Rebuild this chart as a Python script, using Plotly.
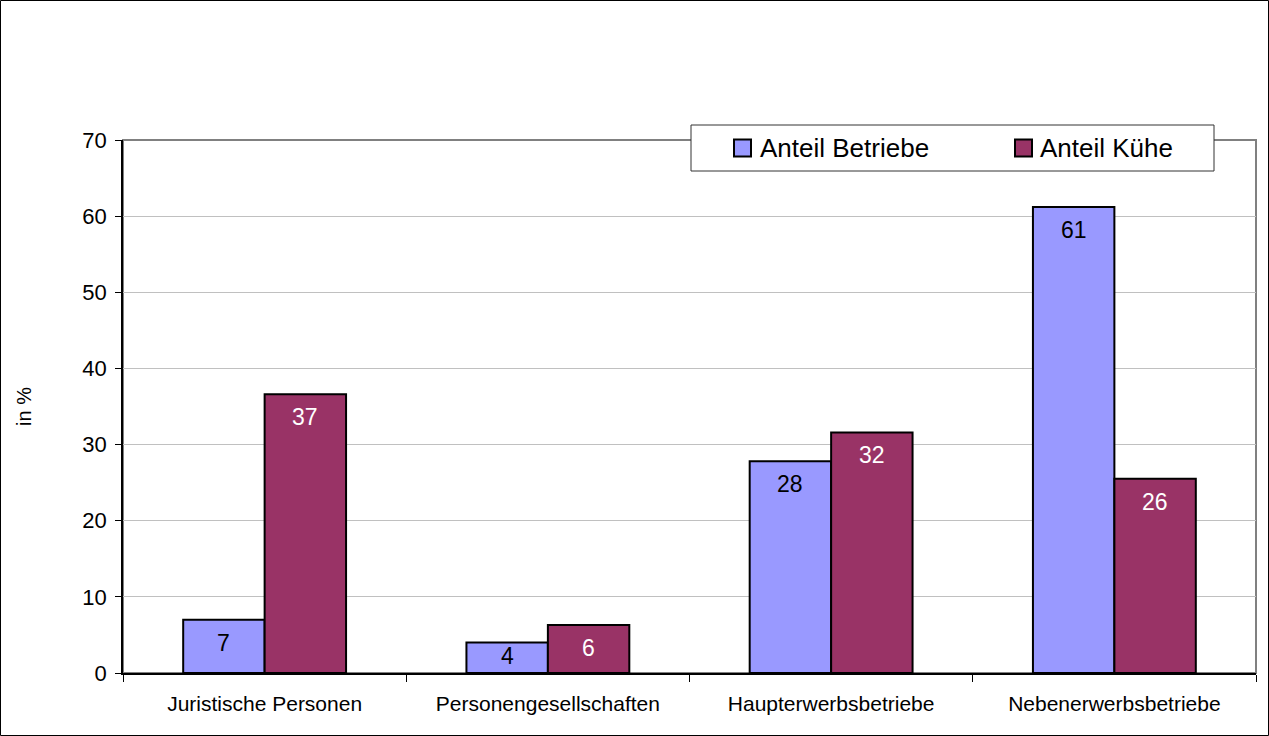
import plotly.graph_objects as go

categories = ["Juristische Personen", "Personengesellschaften", "Haupterwerbsbetriebe", "Nebenerwerbsbetriebe"]
anteil_betriebe = [7.0, 4.0, 27.8, 61.2]
anteil_kuehe = [36.6, 6.3, 31.6, 25.5]
series_names = ["Anteil Betriebe", "Anteil Kühe"]
y_ticks = [0, 10, 20, 30, 40, 50, 60, 70]

W, H = 1269, 736
L, R, T, B = 123, 13, 140, 63
PW, PH = W - L - R, H - T - B
YMAX = 70
BARGAP = 0.425
barw = PW / len(categories) * (1 - BARGAP) / 2
px_per_unit = PH / YMAX

FONT = "Arial, Liberation Sans, sans-serif"
C1, C2 = "#9999FF", "#993366"
colors = [C1, C2]

fig = go.Figure()
fig.add_trace(go.Bar(x=categories, y=anteil_betriebe, name=series_names[0], showlegend=False,
                     marker=dict(color=C1, line=dict(color="black", width=2)), hoverinfo="skip"))
fig.add_trace(go.Bar(x=categories, y=anteil_kuehe, name=series_names[1], showlegend=False,
                     marker=dict(color=C2, line=dict(color="black", width=2)), hoverinfo="skip"))

annotations = []
for vals, shift, col in [(anteil_betriebe, -barw / 2, "black"), (anteil_kuehe, barw / 2, "white")]:
    for c, v in zip(categories, vals):
        if v * px_per_unit < 40:
            pos = dict(y=v / 2, yanchor="middle", yshift=2)
        else:
            pos = dict(y=v, yanchor="top", yshift=-8)
        annotations.append(dict(x=c, xref="x", yref="y", text=f"{v:.0f}",
                                showarrow=False, xshift=shift,
                                font=dict(family=FONT, size=23, color=col), **pos))


def px_x(p):
    return (p - L) / PW


def px_y(p):
    return (H - B - p) / PH


shapes = [
    dict(type="rect", xref="paper", yref="paper", x0=0, x1=1, y0=0, y1=1,
         line=dict(color="#808080", width=2), layer="below"),
    dict(type="rect", xref="paper", yref="paper", x0=px_x(0.5), x1=px_x(W - 0.5),
         y0=px_y(0.5), y1=px_y(H - 0.5), line=dict(color="black", width=1)),
    # legend box
    dict(type="rect", xref="paper", yref="paper", x0=px_x(691), x1=px_x(1214),
         y0=px_y(125), y1=px_y(171), fillcolor="white", line=dict(color="#333333", width=1)),
]

legend_marker_x = [734, 1015]
legend_text_x = [758, 1038]
for name, col, mx, tx in zip(series_names, colors, legend_marker_x, legend_text_x):
    shapes.append(dict(type="rect", xref="paper", yref="paper", x0=px_x(mx), x1=px_x(mx + 17),
                       y0=px_y(139.5), y1=px_y(156.5), fillcolor=col,
                       line=dict(color="black", width=2)))
    annotations.append(dict(x=px_x(tx), y=px_y(148), xref="paper", yref="paper", text=name,
                            showarrow=False, xanchor="left", yanchor="middle",
                            font=dict(family=FONT, size=26, color="black")))

fig.update_layout(
    width=W, height=H,
    margin=dict(l=L, r=R, t=T, b=B, autoexpand=False),
    paper_bgcolor="white", plot_bgcolor="white",
    barmode="group", bargap=BARGAP, bargroupgap=0,
    font=dict(family=FONT, color="black"),
    showlegend=False,
    hovermode=False,
    annotations=annotations,
    shapes=shapes,
)
fig.update_yaxes(range=[0, YMAX], tickvals=y_ticks, showgrid=True, gridcolor="#C0C0C0", gridwidth=1,
                 showline=True, linecolor="black", linewidth=1.5, ticks="outside", ticklen=6,
                 tickcolor="black", tickfont=dict(family=FONT, size=22), ticklabelstandoff=4,
                 zeroline=False,
                 title=dict(text="in %", font=dict(family=FONT, size=20), standoff=45))
fig.update_xaxes(showgrid=False, showline=True, linecolor="black", linewidth=1.5,
                 ticks="outside", tickson="boundaries", ticklen=7, tickcolor="black",
                 tickfont=dict(family=FONT, size=21), ticklabelstandoff=11)

fig.write_html("out.html", config={"displayModeBar": False},
               post_script="document.body.style.margin='0px';")
